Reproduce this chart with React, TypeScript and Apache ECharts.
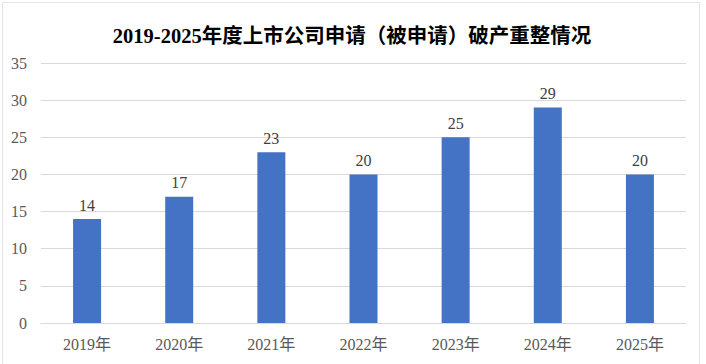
import React, { useEffect, useRef } from "react";
import * as echarts from "echarts";

const categories = ["2019年", "2020年", "2021年", "2022年", "2023年", "2024年", "2025年"];
const values = [14, 17, 23, 20, 25, 29, 20];
const titleText = "2019-2025年度上市公司申请（被申请）破产重整情况";

const FONT = "'Liberation Serif', 'Times New Roman', 'Noto Sans CJK SC', serif";

export default function App() {
  const ref = useRef<HTMLDivElement>(null);
  useEffect(() => {
    if (!ref.current) return;
    const chart = echarts.init(ref.current, undefined, { renderer: "svg" });
    chart.setOption({
      animation: false,
      backgroundColor: "#ffffff",
      title: {
        text: titleText,
        left: 347,
        textAlign: "center",
        top: 21,
        textStyle: { fontFamily: FONT, fontSize: 20.5, fontWeight: "bold", color: "#000000" },
      },
      graphic: [
        {
          type: "rect",
          shape: { x: 2.5, y: 2.5, width: 697, height: 380 },
          style: { fill: "none", stroke: "#e4e4e4", lineWidth: 1 },
          silent: true,
        },
      ],
      grid: { left: 41, right: 20, top: 63, bottom: 41, containLabel: false },
      xAxis: {
        type: "category",
        data: categories,
        axisTick: { show: false },
        axisLine: { lineStyle: { color: "#d9d9d9", width: 1 } },
        axisLabel: { fontFamily: FONT, fontSize: 16, color: "#595959", margin: 13 },
      },
      yAxis: {
        type: "value",
        min: 0,
        max: 35,
        interval: 5,
        axisLine: { show: false },
        axisTick: { show: false },
        splitLine: { lineStyle: { color: "#d9d9d9", width: 1 } },
        axisLabel: { fontFamily: FONT, fontSize: 16, color: "#595959", margin: 14 },
      },
      series: [
        {
          type: "bar",
          data: values,
          barWidth: 28,
          itemStyle: { color: "#4472C4" },
          label: {
            show: true,
            position: "top",
            distance: 6,
            fontFamily: FONT,
            fontSize: 16,
            color: "#404040",
          },
        },
      ],
    });
    return () => chart.dispose();
  }, []);
  return (
    <div
      ref={ref}
      style={{ position: "fixed", left: 0, top: 0, width: 706, height: 364 }}
    />
  );
}
